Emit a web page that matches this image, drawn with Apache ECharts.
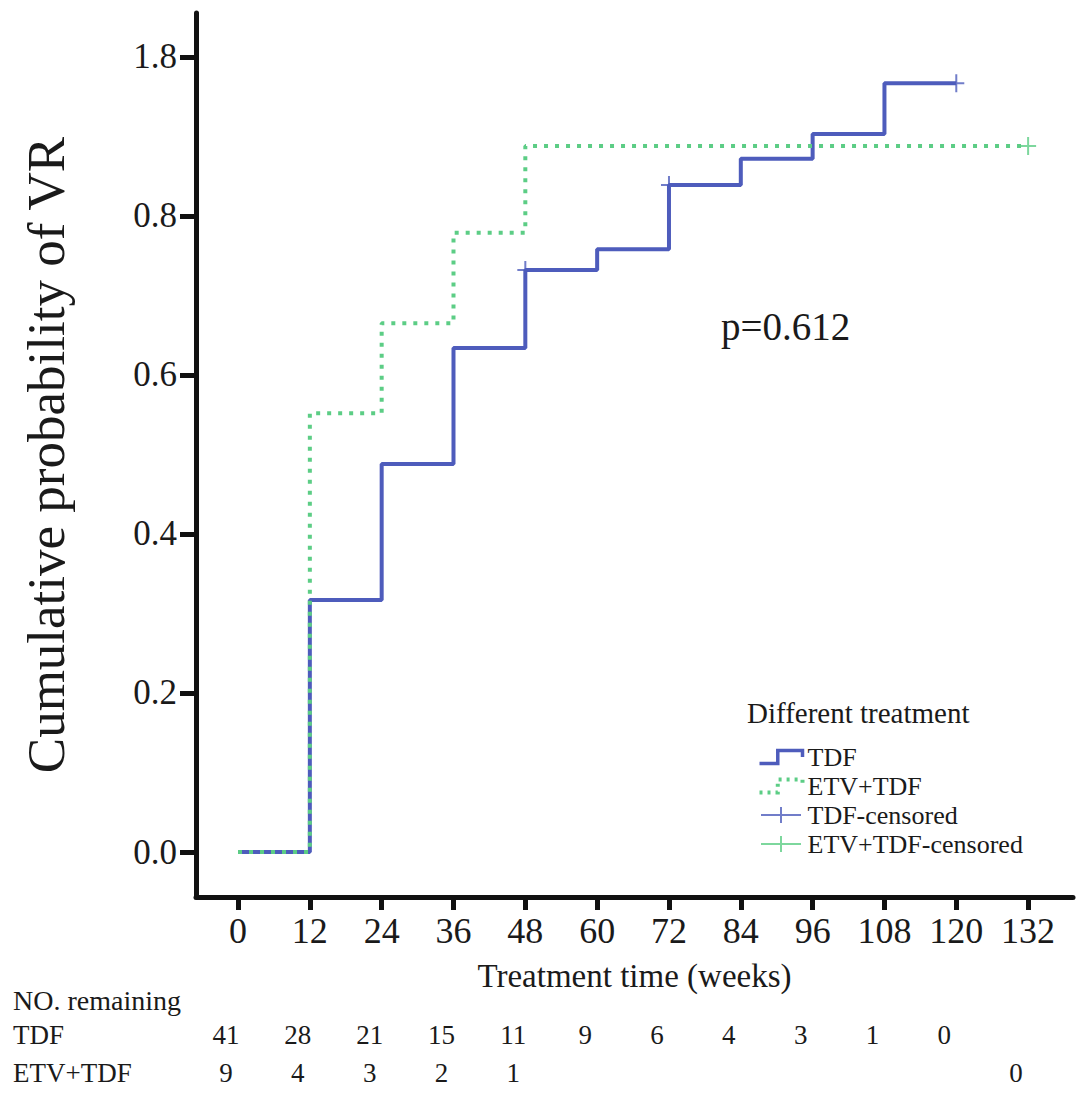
<!DOCTYPE html>
<html>
<head>
<meta charset="utf-8">
<script src="https://cdn.jsdelivr.net/npm/echarts@6/dist/echarts.min.js"></script>
<style>
html, body { margin: 0; padding: 0; background: #fff; }
#chart { width: 1087px; height: 1096px; }
</style>
</head>
<body>
<div id="chart"></div>
<script>
// axis ticks
var weekTicks = [0, 12, 24, 36, 48, 60, 72, 84, 96, 108, 120, 132];
var probTicks = [0, 0.2, 0.4, 0.6, 0.8, 1.0];
var probTickLabels = ['0.0', '0.2', '0.4', '0.6', '0.8', '1.8'];

// cumulative probability curves
var tdfWeeks = [0, 12, 24, 36, 48, 60, 72, 84, 96, 108, 120];
var tdfProb = [0, 0.317, 0.488, 0.634, 0.732, 0.758, 0.839, 0.872, 0.903, 0.967, 0.967];
var etvWeeks = [0, 12, 24, 36, 48, 132];
var etvProb = [0, 0.552, 0.665, 0.779, 0.888, 0.888];

// censored marks
var tdfCensorWeeks = [48, 72, 120];
var tdfCensorProb = [0.732, 0.839, 0.967];
var etvCensorWeeks = [132];
var etvCensorProb = [0.888];

// number remaining table
var riskGroups = ['TDF', 'ETV+TDF'];
var tdfRiskWeeks = [0, 12, 24, 36, 48, 60, 72, 84, 96, 108, 120];
var tdfRisk = [41, 28, 21, 15, 11, 9, 6, 4, 3, 1, 0];
var etvRiskWeeks = [0, 12, 24, 36, 48, 132];
var etvRisk = [9, 4, 3, 2, 1, 0];

var FONT = 'Liberation Serif';
var TXT = '#1a1a1a';
var BLUE = '#4e5cbc';
var GREEN = '#5ccd85';
var stepIcon = 'path://M0,14 L17,14 L17,2 L40,2 L40,8';
var censorIcon = 'path://M0,7 L40,7 L40,9 L0,9 Z M19,0 L21,0 L21,16 L19,16 Z';
var plusMark = 'path://M0,8 L16,8 L16,10 L0,10 Z M7,0 L9,0 L9,18 L7,18 Z';

function zip(xs, ys) {
	var out = [];
	for (var i = 0; i < xs.length; i++) {
		out.push([xs[i], ys[i]]);
	}
	return out;
}

function riskData(weeks, counts, group) {
	var out = [];
	for (var i = 0; i < weeks.length; i++) {
		out.push([weeks[i], group, counts[i]]);
	}
	return out;
}

function riskLabel() {
	return {
		show: true, position: 'inside', offset: [-12, 0],
		formatter: function(p) { return p.value[2]; },
		fontFamily: FONT, fontSize: 27, color: TXT,
		textBorderWidth: 0, opacity: 1
	};
}

var chart = echarts.init(document.getElementById('chart'), null, { renderer: 'svg' });

var option = {
	backgroundColor: '#fff',
	animation: false,
	textStyle: { fontFamily: FONT },
	title: [{
		text: 'p=0.612',
		left: 721, top: 307, padding: 0,
		textStyle: { fontFamily: FONT, fontSize: 39, fontWeight: 'normal', color: TXT }
	}, {
		text: 'Different treatment',
		left: 747, top: 698, padding: 0,
		textStyle: { fontFamily: FONT, fontSize: 29, fontWeight: 'normal', color: TXT }
	}, {
		text: 'NO. remaining',
		left: 13, top: 986, padding: 0,
		textStyle: { fontFamily: FONT, fontSize: 28, fontWeight: 'normal', color: TXT }
	}],
	legend: {
		orient: 'vertical',
		left: 757, top: 744,
		padding: 0,
		itemGap: 3,
		itemWidth: 43,
		itemHeight: 16,
		textStyle: { fontFamily: FONT, fontSize: 26, color: TXT },
		data: [{
			name: 'TDF', icon: stepIcon,
			itemStyle: { color: 'none', borderColor: BLUE, borderWidth: 3.5 }
		}, {
			name: 'ETV+TDF', icon: stepIcon,
			itemStyle: { color: 'none', borderColor: GREEN, borderWidth: 4, borderType: [3, 5] }
		}, {
			name: 'TDF-censored', icon: censorIcon,
			itemStyle: { color: BLUE }
		}, {
			name: 'ETV+TDF-censored', icon: censorIcon,
			itemStyle: { color: GREEN }
		}]
	},
	grid: [{
		left: 196, right: 14, top: 13, bottom: 199
	}, {
		left: 196, right: 14, top: 1016, height: 76
	}],
	xAxis: [{
		type: 'value',
		gridIndex: 0,
		min: -7.02,
		max: 139.5,
		name: 'Treatment time (weeks)',
		nameLocation: 'middle',
		nameGap: 62,
		nameTextStyle: { fontFamily: FONT, fontSize: 33, color: TXT },
		splitLine: { show: false },
		axisLine: { onZero: false, lineStyle: { color: '#111', width: 5 } },
		axisTick: { customValues: weekTicks, length: 13, lineStyle: { color: '#111', width: 5 } },
		axisLabel: {
			customValues: weekTicks, margin: 16,
			fontFamily: FONT, fontSize: 36, color: TXT
		}
	}, {
		type: 'value',
		gridIndex: 1,
		min: -7.02,
		max: 139.5,
		show: false
	}],
	yAxis: [{
		type: 'value',
		gridIndex: 0,
		min: -0.0566,
		max: 1.0553,
		name: 'Cumulative probability of VR',
		nameLocation: 'middle',
		nameGap: 124,
		nameTextStyle: { fontFamily: FONT, fontSize: 53, color: TXT },
		splitLine: { show: false },
		axisLine: { onZero: false, lineStyle: { color: '#111', width: 5 } },
		axisTick: { customValues: probTicks, length: 16, lineStyle: { color: '#111', width: 5 } },
		axisLabel: {
			customValues: probTicks, margin: 19,
			fontFamily: FONT, fontSize: 35, color: TXT,
			formatter: function(v) {
				for (var i = 0; i < probTicks.length; i++) {
					if (Math.abs(v - probTicks[i]) < 1e-6) return probTickLabels[i];
				}
				return '';
			}
		}
	}, {
		type: 'category',
		gridIndex: 1,
		data: riskGroups,
		inverse: true,
		axisLine: { show: false },
		axisTick: { show: false },
		splitLine: { show: false },
		axisLabel: {
			align: 'left', margin: 183,
			fontFamily: FONT, fontSize: 27, color: TXT
		}
	}],
	series: [{
		name: 'TDF',
		type: 'line',
		step: 'end',
		data: zip(tdfWeeks, tdfProb),
		showSymbol: false,
		symbol: 'none',
		z: 2,
		lineStyle: { color: BLUE, width: 4 },
		itemStyle: { color: BLUE }
	}, {
		name: 'ETV+TDF',
		type: 'line',
		step: 'end',
		data: zip(etvWeeks, etvProb),
		showSymbol: false,
		symbol: 'none',
		z: 3,
		lineStyle: { color: GREEN, width: 4, type: [4, 7], cap: 'butt' },
		itemStyle: { color: GREEN }
	}, {
		name: 'TDF-censored',
		type: 'scatter',
		data: zip(tdfCensorWeeks, tdfCensorProb),
		symbol: plusMark,
		symbolSize: [16, 18],
		z: 4,
		itemStyle: { color: BLUE }
	}, {
		name: 'ETV+TDF-censored',
		type: 'scatter',
		data: zip(etvCensorWeeks, etvCensorProb),
		symbol: plusMark,
		symbolSize: [16, 18],
		z: 4,
		itemStyle: { color: GREEN }
	}, {
		name: 'risk-tdf',
		type: 'scatter',
		xAxisIndex: 1,
		yAxisIndex: 1,
		data: riskData(tdfRiskWeeks, tdfRisk, 'TDF'),
		symbolSize: 1,
		itemStyle: { color: '#fff' },
		label: riskLabel()
	}, {
		name: 'risk-etv',
		type: 'scatter',
		xAxisIndex: 1,
		yAxisIndex: 1,
		data: riskData(etvRiskWeeks, etvRisk, 'ETV+TDF'),
		symbolSize: 1,
		itemStyle: { color: '#fff' },
		label: riskLabel()
	}]
};

chart.setOption(option);
</script>
</body>
</html>
